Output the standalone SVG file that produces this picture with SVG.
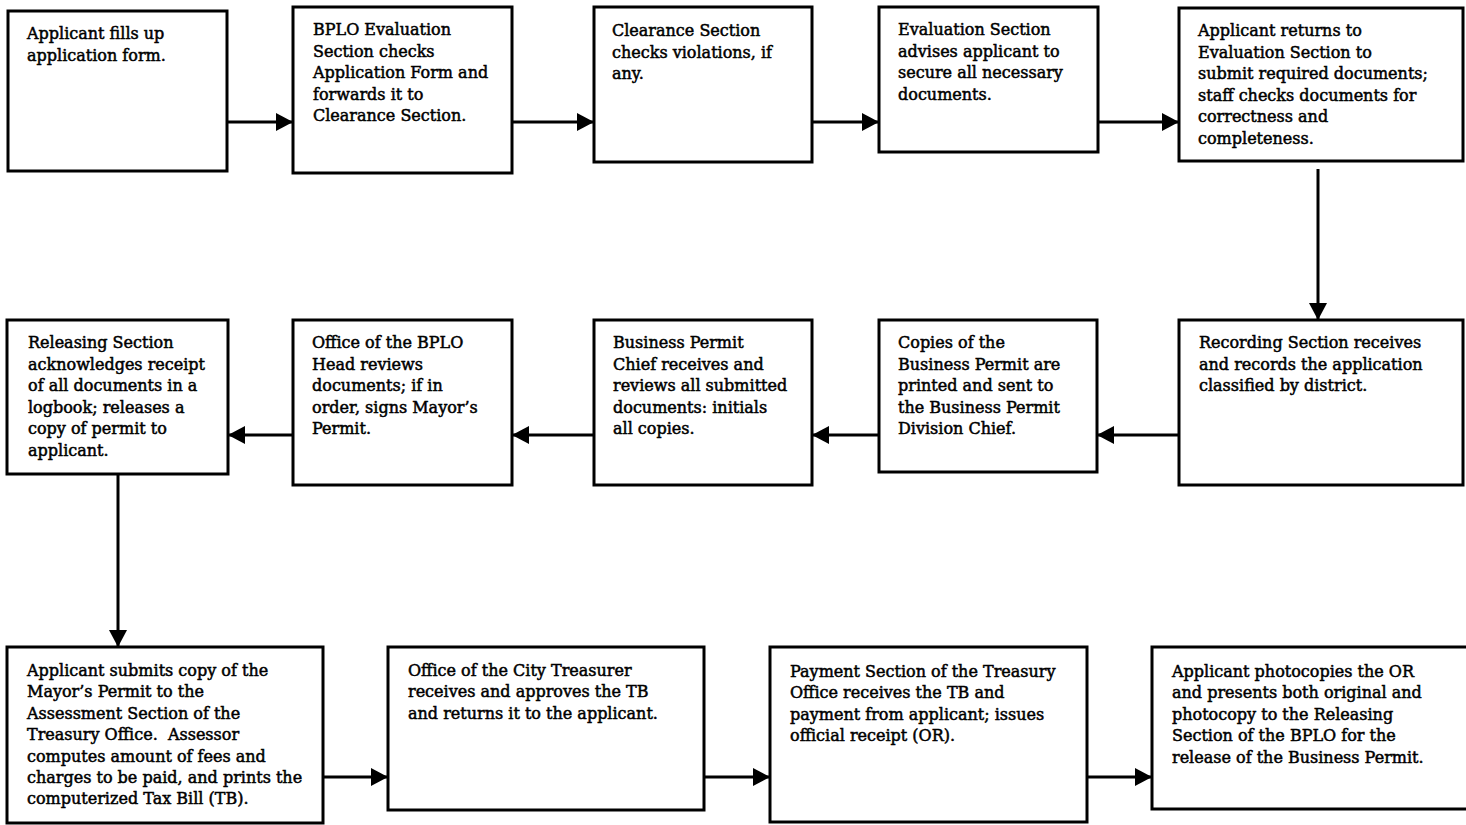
<svg xmlns="http://www.w3.org/2000/svg" width="1466" height="825" viewBox="0 0 1466 825">
<style>
.box{fill:#fff;stroke:#000;stroke-width:3}
.t{font-family:"DejaVu Serif","Liberation Serif",serif;font-size:16px;fill:#000;stroke:#000;stroke-width:0.5;white-space:pre}
.c{stroke:#000;stroke-width:3;fill:none;marker-end:url(#ah)}
</style>
<defs>
<marker id="ah" markerUnits="userSpaceOnUse" markerWidth="18" markerHeight="18" refX="17" refY="9" orient="auto">
<path d="M0,0 L17,9 L0,18 Z" fill="#000"/>
</marker>
</defs>
<rect width="1466" height="825" fill="#fff"/>
<g id="connectors">
<line class="c" x1="227" y1="122" x2="293" y2="122"/>
<line class="c" x1="512" y1="122" x2="594" y2="122"/>
<line class="c" x1="812" y1="122" x2="879" y2="122"/>
<line class="c" x1="1098" y1="122" x2="1179" y2="122"/>
<line class="c" x1="1318" y1="169" x2="1318" y2="320"/>
<line class="c" x1="1179" y1="435" x2="1097" y2="435"/>
<line class="c" x1="879" y1="435" x2="812" y2="435"/>
<line class="c" x1="594" y1="435" x2="512" y2="435"/>
<line class="c" x1="293" y1="435" x2="228" y2="435"/>
<line class="c" x1="118" y1="474" x2="118" y2="647"/>
<line class="c" x1="323" y1="777" x2="388" y2="777"/>
<line class="c" x1="704" y1="777" x2="770" y2="777"/>
<line class="c" x1="1087" y1="777" x2="1152" y2="777"/>
</g>
<g id="n1"><rect class="box" x="8" y="11" width="219" height="160"/>
<text class="t" x="27" y="39"><tspan x="27">Applicant fills up</tspan><tspan x="27" dy="21.6">application form.</tspan></text></g>
<g id="n2"><rect class="box" x="293" y="7" width="219" height="166"/>
<text class="t" x="313" y="35"><tspan x="313">BPLO Evaluation</tspan><tspan x="313" dy="21.6">Section checks</tspan><tspan x="313" dy="21.6">Application Form and</tspan><tspan x="313" dy="21.6">forwards it to</tspan><tspan x="313" dy="21.6">Clearance Section.</tspan></text></g>
<g id="n3"><rect class="box" x="594" y="7" width="218" height="155"/>
<text class="t" x="612" y="36"><tspan x="612">Clearance Section</tspan><tspan x="612" dy="21.6">checks violations, if</tspan><tspan x="612" dy="21.6">any.</tspan></text></g>
<g id="n4"><rect class="box" x="879" y="7" width="219" height="145"/>
<text class="t" x="898" y="35"><tspan x="898">Evaluation Section</tspan><tspan x="898" dy="21.6">advises applicant to</tspan><tspan x="898" dy="21.6">secure all necessary</tspan><tspan x="898" dy="21.6">documents.</tspan></text></g>
<g id="n5"><rect class="box" x="1179" y="8" width="284" height="153"/>
<text class="t" x="1198" y="36"><tspan x="1198">Applicant returns to</tspan><tspan x="1198" dy="21.6">Evaluation Section to</tspan><tspan x="1198" dy="21.6">submit required documents;</tspan><tspan x="1198" dy="21.6">staff checks documents for</tspan><tspan x="1198" dy="21.6">correctness and</tspan><tspan x="1198" dy="21.6">completeness.</tspan></text></g>
<g id="n6"><rect class="box" x="1179" y="320" width="284" height="165"/>
<text class="t" x="1199" y="348"><tspan x="1199">Recording Section receives</tspan><tspan x="1199" dy="21.6">and records the application</tspan><tspan x="1199" dy="21.6">classified by district.</tspan></text></g>
<g id="n7"><rect class="box" x="879" y="320" width="218" height="152"/>
<text class="t" x="898" y="348"><tspan x="898">Copies of the</tspan><tspan x="898" dy="21.6">Business Permit are</tspan><tspan x="898" dy="21.6">printed and sent to</tspan><tspan x="898" dy="21.6">the Business Permit</tspan><tspan x="898" dy="21.6">Division Chief.</tspan></text></g>
<g id="n8"><rect class="box" x="594" y="320" width="218" height="165"/>
<text class="t" x="613" y="348"><tspan x="613">Business Permit</tspan><tspan x="613" dy="21.6">Chief receives and</tspan><tspan x="613" dy="21.6">reviews all submitted</tspan><tspan x="613" dy="21.6">documents: initials</tspan><tspan x="613" dy="21.6">all copies.</tspan></text></g>
<g id="n9"><rect class="box" x="293" y="320" width="219" height="165"/>
<text class="t" x="312" y="348"><tspan x="312">Office of the BPLO</tspan><tspan x="312" dy="21.6">Head reviews</tspan><tspan x="312" dy="21.6">documents; if in</tspan><tspan x="312" dy="21.6">order, signs Mayor’s</tspan><tspan x="312" dy="21.6">Permit.</tspan></text></g>
<g id="n10"><rect class="box" x="7" y="320" width="221" height="154"/>
<text class="t" x="28" y="348"><tspan x="28">Releasing Section</tspan><tspan x="28" dy="21.6">acknowledges receipt</tspan><tspan x="28" dy="21.6">of all documents in a</tspan><tspan x="28" dy="21.6">logbook; releases a</tspan><tspan x="28" dy="21.6">copy of permit to</tspan><tspan x="28" dy="21.6">applicant.</tspan></text></g>
<g id="n11"><rect class="box" x="7" y="647" width="316" height="176"/>
<text class="t" x="27" y="676"><tspan x="27">Applicant submits copy of the</tspan><tspan x="27" dy="21.4">Mayor’s Permit to the</tspan><tspan x="27" dy="21.4">Assessment Section of the</tspan><tspan x="27" dy="21.4">Treasury Office.  Assessor</tspan><tspan x="27" dy="21.4">computes amount of fees and</tspan><tspan x="27" dy="21.4">charges to be paid, and prints the</tspan><tspan x="27" dy="21.4">computerized Tax Bill (TB).</tspan></text></g>
<g id="n12"><rect class="box" x="388" y="647" width="316" height="163"/>
<text class="t" x="408" y="676"><tspan x="408">Office of the City Treasurer</tspan><tspan x="408" dy="21.4">receives and approves the TB</tspan><tspan x="408" dy="21.4">and returns it to the applicant.</tspan></text></g>
<g id="n13"><rect class="box" x="770" y="647" width="317" height="175"/>
<text class="t" x="790" y="677"><tspan x="790">Payment Section of the Treasury</tspan><tspan x="790" dy="21.4">Office receives the TB and</tspan><tspan x="790" dy="21.4">payment from applicant; issues</tspan><tspan x="790" dy="21.4">official receipt (OR).</tspan></text></g>
<g id="n14"><path d="M1470,647 H1152 V809 H1470" fill="#fff" stroke="#000" stroke-width="3"/>
<text class="t" x="1172" y="677"><tspan x="1172">Applicant photocopies the OR</tspan><tspan x="1172" dy="21.4">and presents both original and</tspan><tspan x="1172" dy="21.4">photocopy to the Releasing</tspan><tspan x="1172" dy="21.4">Section of the BPLO for the</tspan><tspan x="1172" dy="21.4">release of the Business Permit.</tspan></text></g>
</svg>
